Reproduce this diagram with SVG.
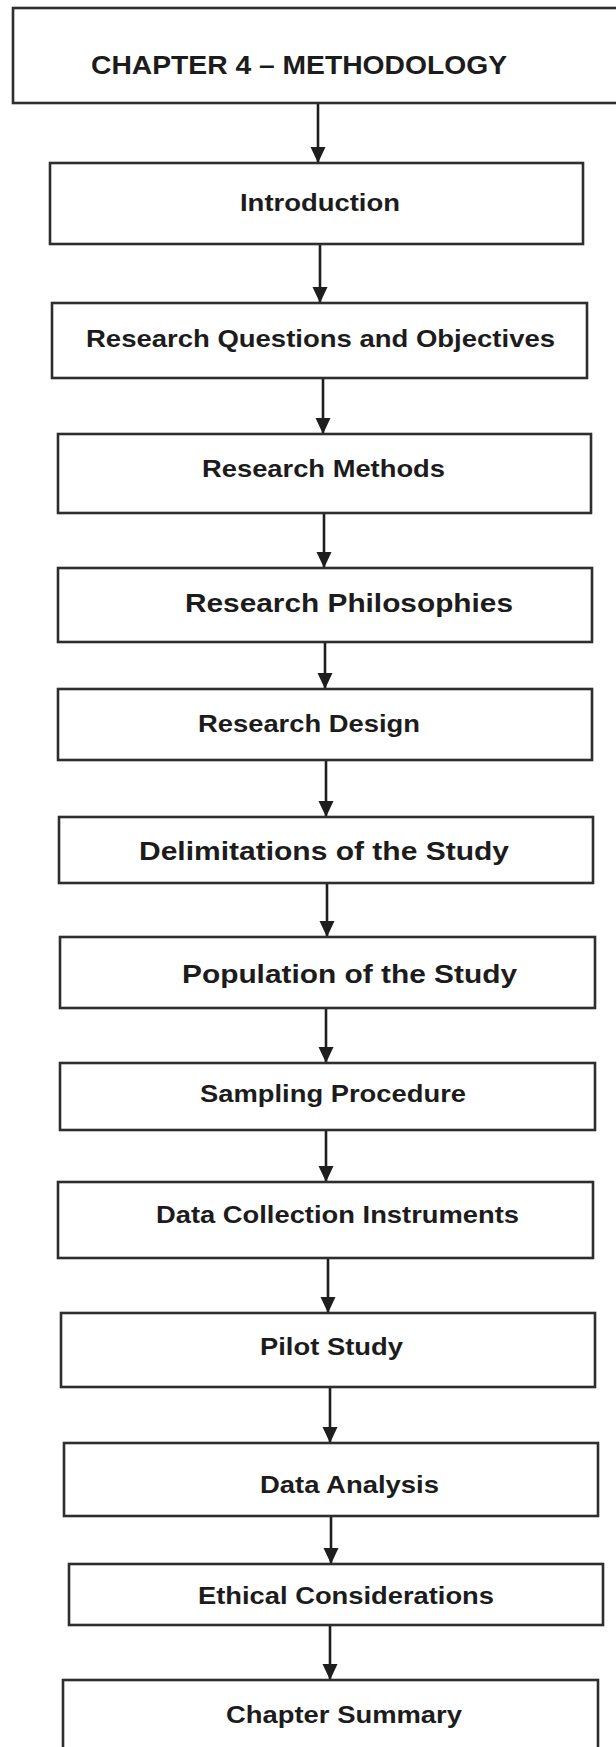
<svg xmlns="http://www.w3.org/2000/svg" width="616" height="1747" viewBox="0 0 616 1747">
  <style>
    .box { fill: #ffffff; stroke: #2e2e2e; stroke-width: 2.6; }
    .lbl { font-family: "Liberation Sans", Arial, sans-serif; font-weight: bold; fill: #1c1c1c; }
    .n { font-size: 24.5px; }
    .l { font-size: 26.6px; }
    .t { font-size: 26.5px; }
    .edge { stroke: #1e1e1e; stroke-width: 2.6; fill: none; marker-end: url(#arrow); }
  </style>
  <defs>
    <marker id="arrow" viewBox="0 0 16 16" refX="15" refY="8" markerWidth="16" markerHeight="16" markerUnits="userSpaceOnUse" orient="auto">
      <path d="M0,0.5 L16,8 L0,15.5 z" fill="#1e1e1e"/>
    </marker>
  </defs>
  <rect width="616" height="1747" fill="#ffffff"/>

  <g id="connectors">
    <line class="edge" x1="318" y1="103" x2="318" y2="162"/>
    <line class="edge" x1="320" y1="244" x2="320" y2="302"/>
    <line class="edge" x1="323" y1="378" x2="323" y2="433"/>
    <line class="edge" x1="324" y1="513" x2="324" y2="567"/>
    <line class="edge" x1="325" y1="642" x2="325" y2="688"/>
    <line class="edge" x1="326" y1="760" x2="326" y2="816"/>
    <line class="edge" x1="327" y1="883" x2="327" y2="936"/>
    <line class="edge" x1="326" y1="1008" x2="326" y2="1062"/>
    <line class="edge" x1="326" y1="1130" x2="326" y2="1181"/>
    <line class="edge" x1="328" y1="1258" x2="328" y2="1312"/>
    <line class="edge" x1="330" y1="1387" x2="330" y2="1442"/>
    <line class="edge" x1="331" y1="1516" x2="331" y2="1563"/>
    <line class="edge" x1="330" y1="1625" x2="330" y2="1679"/>
  </g>

  <g id="chapter">
    <rect class="box" x="13" y="8" width="612" height="95"/>
    <text class="lbl t" x="91" y="74" textLength="416" lengthAdjust="spacingAndGlyphs">CHAPTER 4 – METHODOLOGY</text>
  </g>
  <g id="introduction">
    <rect class="box" x="50" y="163" width="533" height="81"/>
    <text class="lbl n" x="240" y="211" textLength="160" lengthAdjust="spacingAndGlyphs">Introduction</text>
  </g>
  <g id="questions">
    <rect class="box" x="52" y="303" width="535" height="75"/>
    <text class="lbl n" x="86" y="347" textLength="469" lengthAdjust="spacingAndGlyphs">Research Questions and Objectives</text>
  </g>
  <g id="methods">
    <rect class="box" x="58" y="434" width="533" height="79"/>
    <text class="lbl n" x="202" y="477" textLength="243" lengthAdjust="spacingAndGlyphs">Research Methods</text>
  </g>
  <g id="philosophies">
    <rect class="box" x="58" y="568" width="534" height="74"/>
    <text class="lbl l" x="185" y="612" textLength="328" lengthAdjust="spacingAndGlyphs">Research Philosophies</text>
  </g>
  <g id="design">
    <rect class="box" x="58" y="689" width="534" height="71"/>
    <text class="lbl n" x="198" y="732" textLength="222" lengthAdjust="spacingAndGlyphs">Research Design</text>
  </g>
  <g id="delimitations">
    <rect class="box" x="59" y="817" width="534" height="66"/>
    <text class="lbl l" x="139" y="860" textLength="370" lengthAdjust="spacingAndGlyphs">Delimitations of the Study</text>
  </g>
  <g id="population">
    <rect class="box" x="60" y="937" width="535" height="71"/>
    <text class="lbl l" x="182" y="983" textLength="335" lengthAdjust="spacingAndGlyphs">Population of the Study</text>
  </g>
  <g id="sampling">
    <rect class="box" x="60" y="1063" width="535" height="67"/>
    <text class="lbl n" x="200" y="1102" textLength="266" lengthAdjust="spacingAndGlyphs">Sampling Procedure</text>
  </g>
  <g id="instruments">
    <rect class="box" x="58" y="1182" width="535" height="76"/>
    <text class="lbl n" x="156" y="1223" textLength="363" lengthAdjust="spacingAndGlyphs">Data Collection Instruments</text>
  </g>
  <g id="pilot">
    <rect class="box" x="61" y="1313" width="534" height="74"/>
    <text class="lbl n" x="260" y="1355" textLength="143" lengthAdjust="spacingAndGlyphs">Pilot Study</text>
  </g>
  <g id="analysis">
    <rect class="box" x="64" y="1443" width="534" height="73"/>
    <text class="lbl n" x="260" y="1493" textLength="179" lengthAdjust="spacingAndGlyphs">Data Analysis</text>
  </g>
  <g id="ethics">
    <rect class="box" x="69" y="1564" width="534" height="61"/>
    <text class="lbl n" x="198" y="1604" textLength="296" lengthAdjust="spacingAndGlyphs">Ethical Considerations</text>
  </g>
  <g id="summary">
    <rect class="box" x="63" y="1680" width="535" height="75"/>
    <text class="lbl n" x="226" y="1723" textLength="236" lengthAdjust="spacingAndGlyphs">Chapter Summary</text>
  </g>
</svg>
